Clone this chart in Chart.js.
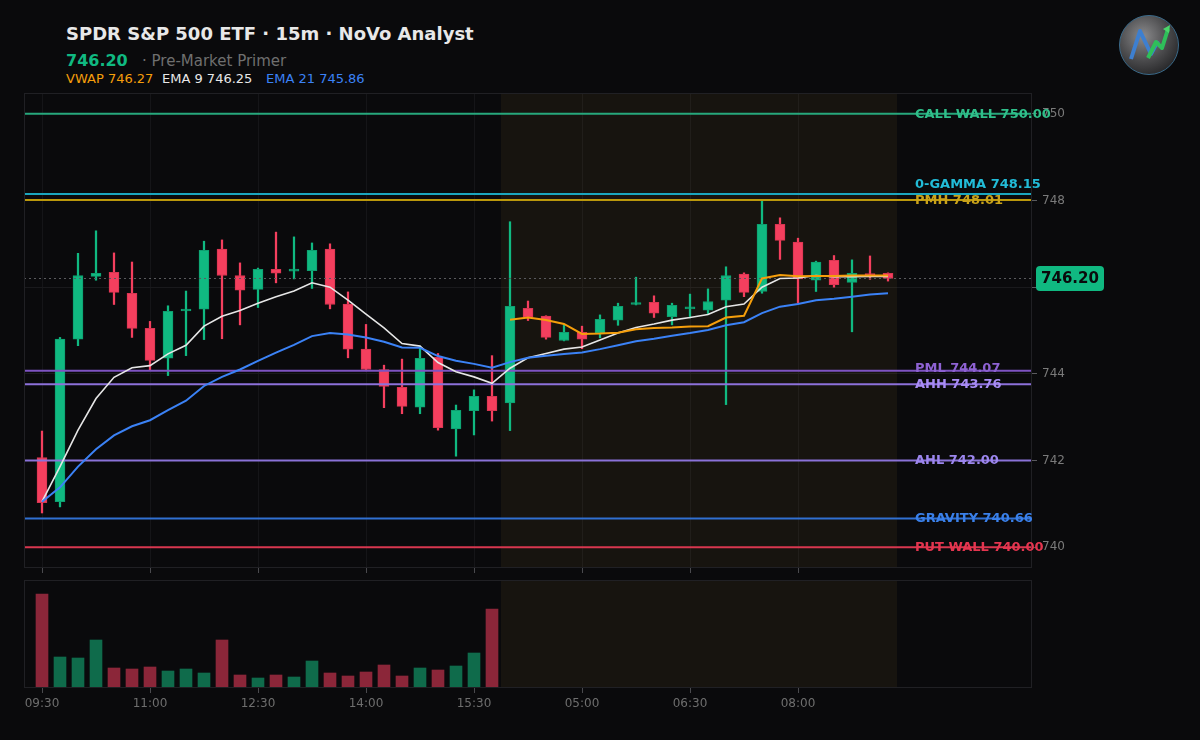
<!DOCTYPE html>
<html>
<head>
<meta charset="utf-8">
<script src="https://cdn.jsdelivr.net/npm/chart.js@4.4.1/dist/chart.umd.min.js"></script>
<style>
  html, body { margin: 0; padding: 0; background: #0a0a0c; }
  #wrap { position: relative; width: 1200px; height: 740px; overflow: hidden; font-family: "DejaVu Sans", sans-serif; }
  #wrap canvas { position: absolute; left: 0; top: 0; }
  .hdr { position: absolute; white-space: nowrap; line-height: normal; }
  #title { left: 66px; top: 23px; font-size: 18px; font-weight: bold; color: #e8e8e8; }
  #last { left: 66px; top: 51px; font-size: 16px; font-weight: bold; color: #10b981; }
  #primer { left: 142px; top: 52px; font-size: 15px; color: #6f6f6f; }
  .ind { top: 71px; font-size: 13px; }
  #logo { position: absolute; left: 1118px; top: 14px; width: 62px; height: 62px; }
</style>
</head>
<body>
<div id="wrap">
  <div class="hdr" id="title">SPDR S&amp;P 500 ETF · 15m · NoVo Analyst</div>
  <div class="hdr" id="last">746.20</div>
  <div class="hdr" id="primer">· Pre-Market Primer</div>
  <div class="hdr ind" style="left:66px;color:#f59e0b">VWAP 746.27</div>
  <div class="hdr ind" style="left:162px;color:#e8e8e8">EMA 9 746.25</div>
  <div class="hdr ind" style="left:266px;color:#3b82f6">EMA 21 745.86</div>
  <svg id="logo" viewBox="0 0 62 62">
    <defs>
      <radialGradient id="disc" cx="40%" cy="35%" r="70%">
        <stop offset="0" stop-color="#8a8a8c"/>
        <stop offset="0.6" stop-color="#4a4a4c"/>
        <stop offset="1" stop-color="#262628"/>
      </radialGradient>
    </defs>
    <circle cx="31" cy="31" r="29.5" fill="url(#disc)" stroke="#3a6a8a" stroke-width="1"/>
    <path d="M13 45 L22 17 L33 40 L40 27" fill="none" stroke="#3d7fd0" stroke-width="4" stroke-linejoin="round"/>
    <path d="M30 44 L38 28 L44 34 L50 15" fill="none" stroke="#2fbf5a" stroke-width="4" stroke-linejoin="round"/>
    <path d="M45 15 L52 11 L51 19 Z" fill="#4ad66a"/>
  </svg>
  <canvas id="priceChart" width="1200" height="740"></canvas>
  <canvas id="volumeChart" width="1200" height="740"></canvas>
</div>
<script>
// candles, 15m bars: regular session 09:30-15:45 then pre-market 04:00-09:15
const open  = [742.07, 741.05, 744.80, 746.25, 746.34, 745.86, 745.05, 744.36, 745.45, 745.49, 746.88, 746.27, 745.95, 746.41, 746.37, 746.38, 746.88, 745.61, 744.57, 744.10, 743.69, 743.23, 744.38, 742.73, 743.15, 743.48,
               743.33, 745.51, 745.33, 744.77, 744.96, 744.94, 745.24, 745.60, 745.65, 745.32, 745.50, 745.47, 745.70, 746.30, 745.90, 747.45, 747.04, 746.16, 746.62, 746.11, 746.30, 746.32];
const close = [741.03, 744.80, 746.27, 746.32, 745.88, 745.05, 744.31, 745.44, 745.49, 746.85, 746.27, 745.93, 746.41, 746.32, 746.41, 746.85, 745.60, 744.57, 744.10, 743.71, 743.25, 744.36, 742.76, 743.16, 743.48, 743.15,
               745.56, 745.30, 744.84, 744.96, 744.80, 745.26, 745.56, 745.62, 745.40, 745.58, 745.52, 745.67, 746.27, 745.88, 747.45, 747.08, 746.19, 746.58, 746.06, 746.32, 746.27, 746.20];
const high  = [742.68, 744.84, 746.78, 747.30, 746.79, 746.58, 745.21, 745.57, 745.91, 747.06, 747.09, 746.56, 746.44, 747.27, 747.16, 747.02, 747.00, 745.89, 745.14, 744.20, 744.34, 744.64, 744.47, 743.28, 743.63, 744.42,
               747.51, 745.68, 745.34, 745.13, 745.10, 745.36, 745.63, 746.23, 745.80, 745.63, 745.84, 745.96, 746.47, 746.33, 748.01, 747.60, 747.13, 746.60, 746.73, 746.63, 746.72, 746.33];
const low   = [740.79, 740.93, 744.65, 746.16, 745.60, 744.84, 744.09, 743.96, 744.42, 744.79, 744.81, 745.13, 745.53, 746.10, 746.19, 745.97, 745.50, 744.37, 744.07, 743.22, 743.08, 743.08, 742.70, 742.10, 742.59, 742.91,
               742.69, 745.23, 744.80, 744.76, 744.58, 744.83, 745.12, 745.59, 745.30, 745.13, 745.29, 745.38, 743.29, 745.78, 745.86, 746.64, 745.63, 745.90, 746.00, 744.97, 746.18, 746.14];

const ema9  = [741.05, 741.86, 742.70, 743.43, 743.92, 744.14, 744.19, 744.46, 744.66, 745.10, 745.33, 745.46, 745.63, 745.78, 745.91, 746.10, 746.00, 745.70, 745.38, 745.06, 744.70, 744.64, 744.26, 744.05, 743.93, 743.78,
               744.13, 744.37, 744.47, 744.57, 744.62, 744.78, 744.94, 745.07, 745.15, 745.24, 745.30, 745.37, 745.55, 745.61, 746.00, 746.20, 746.21, 746.27, 746.24, 746.24, 746.25, 746.25];
const ema21 = [741.05, 741.38, 741.86, 742.26, 742.58, 742.79, 742.93, 743.16, 743.38, 743.72, 743.93, 744.10, 744.30, 744.49, 744.67, 744.87, 744.94, 744.91, 744.84, 744.74, 744.61, 744.60, 744.41, 744.30, 744.23, 744.14,
               744.27, 744.37, 744.42, 744.46, 744.49, 744.57, 744.66, 744.75, 744.81, 744.88, 744.94, 745.01, 745.12, 745.19, 745.40, 745.55, 745.61, 745.70, 745.73, 745.78, 745.83, 745.86];
// VWAP only for the pre-market bars
const vwapStart = 26;
const vwap = [745.25, 745.30, 745.24, 745.15, 744.92, 744.93, 744.95, 745.03, 745.06, 745.07, 745.09, 745.10, 745.30, 745.34, 746.20, 746.28, 746.25, 746.26, 746.26, 746.27, 746.27, 746.27];

// volume (millions), regular session only
const volume = [4.70, 1.55, 1.50, 2.40, 1.00, 0.95, 1.05, 0.85, 0.95, 0.75, 2.40, 0.65, 0.50, 0.65, 0.55, 1.35, 0.75, 0.60, 0.80, 1.15, 0.60, 1.00, 0.90, 1.10, 1.75, 3.95];

const levelNames  = ['CALL WALL', '0-GAMMA', 'PMH', 'PML', 'AHH', 'AHL', 'GRAVITY', 'PUT WALL'];
const levelValues = [750.00, 748.15, 748.01, 744.07, 743.76, 742.00, 740.66, 740.00];
const levelLineColors = ['#27a87c', '#1ba6bf', '#bb980c', '#7e53c2', '#8d71da', '#8a72d8', '#3070d2', '#d8374f'];
const levelTextColors = ['#2fbf8a', '#22bcd8', '#c9a21a', '#8e62d2', '#a88cf5', '#9c86ee', '#3a80ea', '#e5354f'];

const lastPrice = 746.20;
const tickIndex  = [0, 6, 12, 18, 24, 30, 36, 42];
const tickLabels = ['09:30', '11:00', '12:30', '14:00', '15:30', '05:00', '06:30', '08:00'];
const priceTicks = [740, 742, 744, 746, 748, 750];
const preMarket = [25.5, 47.5]; // shaded session span, in bar index units

const xMin = -1, xMax = 55;
const GREEN = '#10b981', RED = '#f43f5e';
const candleColor = open.map((o, i) => close[i] >= o ? GREEN : RED);
const candleEdge = open.map((o, i) => close[i] >= o ? '#0e9f70' : '#d93551');
const volColor = volume.map((v, i) => close[i] >= open[i] ? '#0f6b4b' : '#8b2639');

function shadePreMarket(chart) {
  const { ctx, chartArea: a, scales: { x } } = chart;
  const x1 = x.getPixelForValue(preMarket[0]);
  const x2 = x.getPixelForValue(preMarket[1]);
  ctx.save();
  ctx.fillStyle = 'rgba(255, 200, 80, 0.053)';
  ctx.fillRect(x1, a.top, x2 - x1, a.bottom - a.top);
  ctx.restore();
}

function frame(chart) {
  const { ctx, chartArea: a } = chart;
  ctx.save();
  ctx.strokeStyle = '#202024';
  ctx.lineWidth = 1;
  ctx.strokeRect(a.left + 0.5, a.top + 0.5, a.right - a.left - 1, a.bottom - a.top - 1);
  ctx.restore();
}

const priceOverlay = {
  id: 'priceOverlay',
  beforeDatasetsDraw(chart) { shadePreMarket(chart); },
  afterDraw(chart) {
    const { ctx, scales: { y } } = chart;
    frame(chart);

    // level labels, pushed apart when they would overlap
    const order = levelValues.map((v, i) => i).sort((a, b) => levelValues[a] - levelValues[b]);
    let prevY = Infinity;
    ctx.save();
    ctx.font = 'bold 13px "DejaVu Sans"';
    ctx.textBaseline = 'middle';
    ctx.textAlign = 'left';
    order.forEach(i => {
      let py = Math.min(y.getPixelForValue(levelValues[i]), prevY - 16);
      prevY = py;
      ctx.fillStyle = levelTextColors[i];
      ctx.fillText(levelNames[i] + ' ' + levelValues[i].toFixed(2), 915, py + 0.5);
    });
    ctx.restore();

    // last price badge
    const py = y.getPixelForValue(lastPrice);
    ctx.save();
    ctx.fillStyle = GREEN;
    ctx.beginPath();
    ctx.roundRect(1036, py - 12.5, 68, 25, 4);
    ctx.fill();
    ctx.fillStyle = '#0a0a0c';
    ctx.font = 'bold 15px "DejaVu Sans"';
    ctx.textAlign = 'center';
    ctx.textBaseline = 'middle';
    ctx.fillText(lastPrice.toFixed(2), 1070, py + 1);
    ctx.restore();
  }
};

const volumeOverlay = {
  id: 'volumeOverlay',
  beforeDatasetsDraw(chart) { shadePreMarket(chart); },
  afterDraw(chart) { frame(chart); }
};

const levelSets = levelValues.map((v, i) => ({
  type: 'line',
  data: [{ x: xMin, y: v }, { x: xMax, y: v }],
  borderColor: levelLineColors[i],
  borderWidth: 2,
  pointRadius: 0,
  order: 1
}));

const xTicksAt = s => { s.ticks = tickIndex.map(v => ({ value: v })); };

new Chart(document.getElementById('priceChart'), {
  type: 'bar',
  data: {
    datasets: [
      {
        label: 'wicks',
        data: low.map((l, i) => ({ x: i, y: [l, high[i]] })),
        backgroundColor: candleColor,
        barThickness: 1.6,
        grouped: false,
        order: 4
      },
      {
        label: 'bodies',
        data: open.map((o, i) => ({ x: i, y: [o, close[i]] })),
        backgroundColor: candleColor,
        borderColor: candleEdge,
        borderWidth: 1,
        borderSkipped: false,
        barThickness: 10,
        minBarLength: 2,
        grouped: false,
        order: 3
      },
      ...levelSets,
      {
        type: 'line',
        label: 'last',
        data: [{ x: xMin, y: lastPrice }, { x: xMax, y: lastPrice }],
        borderColor: '#5c5c60',
        borderWidth: 1,
        borderDash: [2, 3],
        pointRadius: 0,
        order: 2
      },
      {
        type: 'line',
        label: 'EMA 21',
        data: ema21.map((v, i) => ({ x: i, y: v })),
        borderColor: '#3b82f6',
        borderWidth: 2,
        pointRadius: 0,
        order: 0
      },
      {
        type: 'line',
        label: 'VWAP',
        data: vwap.map((v, i) => ({ x: vwapStart + i, y: v })),
        borderColor: '#f59e0b',
        borderWidth: 2,
        pointRadius: 0,
        order: 0
      },
      {
        type: 'line',
        label: 'EMA 9',
        data: ema9.map((v, i) => ({ x: i, y: v })),
        borderColor: '#e6e6e6',
        borderWidth: 1.6,
        pointRadius: 0,
        order: 0
      }
    ]
  },
  options: {
    responsive: false,
    animation: false,
    events: [],
    layout: { padding: { left: 24, top: 93, right: 0, bottom: 0 } },
    plugins: { legend: { display: false }, tooltip: { enabled: false } },
    scales: {
      x: {
        type: 'linear',
        min: xMin,
        max: xMax,
        offset: false,
        grid: { offset: false, color: '#151518', tickColor: '#4a4a4e', tickLength: 5 },
        border: { display: false },
        ticks: { display: false },
        afterBuildTicks: xTicksAt,
        afterFit: s => { s.height = 172; }
      },
      y: {
        position: 'right',
        min: 739.52,
        max: 750.48,
        grid: { color: '#19191c', tickColor: '#5a5a5e', tickLength: 5 },
        border: { display: false },
        ticks: { color: '#7a7a7a', font: { size: 12, family: 'DejaVu Sans' }, padding: 5 },
        afterBuildTicks: s => { s.ticks = priceTicks.map(v => ({ value: v })); },
        afterFit: s => { s.width = 168; }
      }
    }
  },
  plugins: [priceOverlay]
});

new Chart(document.getElementById('volumeChart'), {
  type: 'bar',
  data: {
    datasets: [{
      label: 'volume',
      data: volume.map((v, i) => ({ x: i, y: v })),
      backgroundColor: volColor,
      barThickness: 12
    }]
  },
  options: {
    responsive: false,
    animation: false,
    events: [],
    layout: { padding: { left: 24, top: 580, right: 168, bottom: 0 } },
    plugins: { legend: { display: false }, tooltip: { enabled: false } },
    scales: {
      x: {
        type: 'linear',
        min: xMin,
        max: xMax,
        offset: false,
        grid: { offset: false, color: 'rgba(0,0,0,0)', tickColor: '#4a4a4e', tickLength: 5 },
        border: { display: false },
        ticks: {
          color: '#6e6e6e',
          font: { size: 12, family: 'DejaVu Sans' },
          padding: 4,
          maxRotation: 0,
          callback: v => tickLabels[tickIndex.indexOf(v)]
        },
        afterBuildTicks: xTicksAt,
        afterFit: s => { s.height = 52; }
      },
      y: { display: false, min: 0, max: 5.4 }
    }
  },
  plugins: [volumeOverlay]
});
</script>
</body>
</html>
